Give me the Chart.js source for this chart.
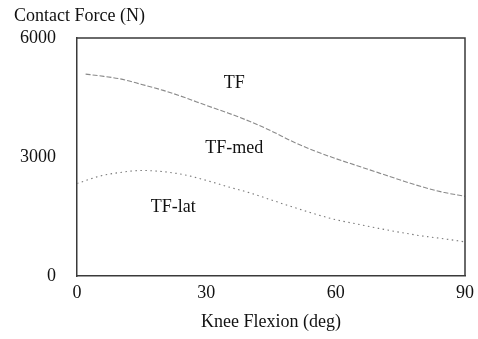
<!DOCTYPE html>
<html lang="en">

<head>
    <meta charset="UTF-8">
    <title>Contact Force</title>
    <style>
        body { margin: 0; background: #fff; }
    </style>
</head>

<body>
    <canvas id="myChart" width="478" height="339"></canvas>

    <script src="https://cdn.jsdelivr.net/npm/chart.js@4.4.1/dist/chart.umd.min.js"></script>
    <script>
        // knee flexion angles (deg) and forces (N)
        const tfAngles = [2, 5, 10, 15, 20, 25, 30, 35, 40, 45, 50, 55, 60, 65, 70, 75, 80, 85, 90];
        const tfForce = [5090, 5050, 4970, 4830, 4680, 4500, 4300, 4110, 3900, 3660, 3390, 3160, 2960, 2780, 2600, 2420, 2250, 2110, 2010];
        const latAngles = [0, 5, 10, 15, 20, 25, 30, 35, 40, 45, 50, 55, 60, 65, 70, 75, 80, 85, 90];
        const latForce = [2330, 2510, 2610, 2660, 2630, 2550, 2410, 2250, 2100, 1920, 1740, 1570, 1420, 1310, 1200, 1100, 1010, 940, 860];
        const xTicks = [0, 30, 60, 90];
        const yTicks = [0, 3000, 6000];

        // curve labels placed in data units
        const curveLabels = [
            { text: 'TF', x: 36.5, y: 4870 },
            { text: 'TF-med', x: 36.5, y: 3230 },
            { text: 'TF-lat', x: 22.3, y: 1740 }
        ];

        const serif = '"Liberation Serif", "Times New Roman", serif';
        const ink = '#111';

        const toPoints = (xs, ys) => xs.map((x, i) => ({ x: x, y: ys[i] }));

        // frame on top/right plus texts
        const decorations = {
            id: 'decorations',
            afterDraw(chart) {
                const c = chart.ctx;
                const a = chart.chartArea;
                const xs = chart.scales.x;
                const ys = chart.scales.y;
                c.save();
                c.strokeStyle = '#3a3a3a';
                c.lineWidth = 1.5;
                c.beginPath();
                c.moveTo(a.left, a.top);
                c.lineTo(a.right, a.top);
                c.lineTo(a.right, a.bottom);
                c.stroke();

                c.fillStyle = ink;
                c.font = '18px ' + serif;
                c.textAlign = 'left';
                c.textBaseline = 'middle';
                c.fillText('Contact Force (N)', 14, 16);

                c.textAlign = 'center';
                curveLabels.forEach(l => {
                    c.fillText(l.text, xs.getPixelForValue(l.x), ys.getPixelForValue(l.y));
                });
                c.restore();
            }
        };

        var ctx = document.getElementById('myChart');
        var config = {
            type: 'line',
            data: {
                datasets: [
                    {
                        label: 'TF',
                        data: toPoints(tfAngles, tfForce),
                        borderColor: '#8a8a8a',
                        borderWidth: 1.1,
                        borderDash: [5, 2],
                        pointRadius: 0,
                        cubicInterpolationMode: 'monotone',
                        fill: false
                    },
                    {
                        label: 'TF-lat',
                        data: toPoints(latAngles, latForce),
                        borderColor: '#7a7a7a',
                        borderWidth: 1.1,
                        borderDash: [1.5, 3.5],
                        pointRadius: 0,
                        cubicInterpolationMode: 'monotone',
                        fill: false
                    }
                ]
            },
            options: {
                responsive: false,
                animation: false,
                layout: { padding: { top: 38, right: 13, left: 0, bottom: 6 } },
                plugins: {
                    legend: { display: false },
                    tooltip: { enabled: false }
                },
                scales: {
                    x: {
                        type: 'linear',
                        min: 0,
                        max: 90,
                        afterBuildTicks: s => { s.ticks = xTicks.map(v => ({ value: v })); },
                        afterFit: s => { s.height = 57; },
                        grid: { display: false, drawTicks: true, tickLength: 5 },
                        border: { display: true, color: '#3a3a3a', width: 1.5 },
                        ticks: {
                            color: ink, font: { family: serif, size: 18 }, padding: 1, maxRotation: 0,
                            callback: v => String(v)
                        },
                        title: {
                            display: true,
                            text: 'Knee Flexion (deg)',
                            color: ink,
                            font: { family: serif, size: 18 },
                            padding: { top: 2, bottom: 0 }
                        }
                    },
                    y: {
                        min: 0,
                        max: 6000,
                        afterBuildTicks: s => { s.ticks = yTicks.map(v => ({ value: v })); },
                        afterFit: s => { s.width = 77; },
                        grid: { display: false, tickLength: 5 },
                        border: { display: true, color: '#3a3a3a', width: 1.5 },
                        ticks: {
                            color: ink, font: { family: serif, size: 18 }, padding: 16,
                            callback: v => String(v)
                        }
                    }
                }
            },
            plugins: [decorations]
        };
        var chart = new Chart(ctx, config);
    </script>

</body>

</html>
